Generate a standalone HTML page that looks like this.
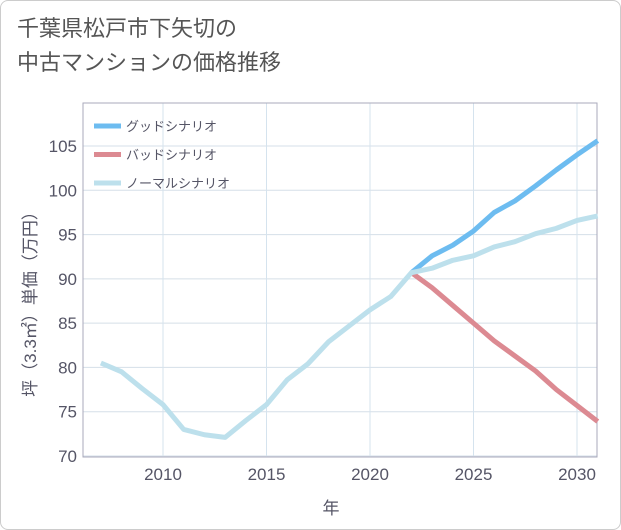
<!DOCTYPE html>
<html><head><meta charset="utf-8"><style>
body{margin:0;background:#fff;}
.card{position:absolute;left:0;top:0;width:619px;height:528px;border:1px solid #ccc;border-radius:8px;background:#fff;}
.title{position:absolute;left:17px;top:12px;font:22px/34px "Liberation Sans","Noto Sans CJK JP",sans-serif;color:#555;}
svg text{font-family:"Liberation Sans","Noto Sans CJK JP",sans-serif;}
</style></head><body>
<div class="card"></div>
<div class="title">千葉県松戸市下矢切の<br>中古マンションの価格推移</div>
<svg id="c" width="621" height="530" style="position:absolute;left:0;top:0"></svg>
<script>
const years=[2007,2008,2009,2010,2011,2012,2013,2014,2015,2016,2017,2018,2019,2020,2021,2022,2023,2024,2025,2026,2027,2028,2029,2030,2031];
const normal=[80.5,79.5,77.6,75.8,73,72.4,72.1,74,75.8,78.6,80.4,82.9,84.7,86.5,88,90.7,91.2,92.1,92.6,93.6,94.2,95.1,95.7,96.6,97.1];
const goodYears=[2022,2023,2024,2025,2026,2027,2028,2029,2030,2031];
const good=[90.7,92.6,93.8,95.4,97.5,98.8,100.5,102.3,104,105.6];
const bad=[90.7,89,87,85,83,81.3,79.6,77.5,75.7,73.9];
const yTicks=[70,75,80,85,90,95,100,105];
const xTicks=[2010,2015,2020,2025,2030];
const L=83,R=597,T=103,B=457;
const xs=y=>163+(y-2010)*20.7;
const ys=v=>456-(v-70)*8.857;
const svg=document.getElementById('c');const NS='http://www.w3.org/2000/svg';
function mk(t,a){const e=document.createElementNS(NS,t);for(const k in a)e.setAttribute(k,a[k]);svg.appendChild(e);return e;}
for(const v of yTicks){const l=mk('line',{x1:L,x2:R,y1:ys(v),y2:ys(v),stroke:'#d5dfe8','stroke-width':1});

const t=mk('text',{x:77,y:ys(v)+6,'text-anchor':'end','font-size':17,fill:'#556'});t.textContent=v;
}
for(const y of xTicks){const l=mk('line',{x1:xs(y),x2:xs(y),y1:T,y2:B,stroke:'#d5e3ee','stroke-width':1});

const t=mk('text',{x:xs(y),y:480,'text-anchor':'middle','font-size':17,fill:'#556'});t.textContent=y;
}
const fr=mk('rect',{x:L,y:T,width:R-L,height:B-T,fill:'none',stroke:'#aab','stroke-width':1});

function line(xv,yv,col,name){const p=mk('polyline',{points:xv.map((x,i)=>xs(x)+','+ys(yv[i])).join(' '),fill:'none',stroke:col,'stroke-width':5,'stroke-linejoin':'round'});
}
line(goodYears,good,'#6dbcf0','good-scenario-line');
line(goodYears,bad,'#dc8a92','bad-scenario-line');
line(years,normal,'#bde0ec','normal-scenario-line');
const leg=[['グッドシナリオ','#6dbcf0'],['バッドシナリオ','#dc8a92'],['ノーマルシナリオ','#bde0ec']];
leg.forEach((d,i)=>{const y=126+i*28.5;
const l=mk('line',{x1:94,x2:121,y1:y,y2:y,stroke:d[1],'stroke-width':5});

const t=mk('text',{x:126,y:y+5,'font-size':13,fill:'#556'});t.textContent=d[0];
});
const yt=mk('text',{x:36,y:300,'text-anchor':'middle','font-size':17,fill:'#556',transform:'rotate(-90 36 300)'});yt.textContent='坪（3.3㎡）単価（万円）';

const xt=mk('text',{x:331,y:514,'text-anchor':'middle','font-size':17,fill:'#556'});xt.textContent='年';

</script>
</body></html>
